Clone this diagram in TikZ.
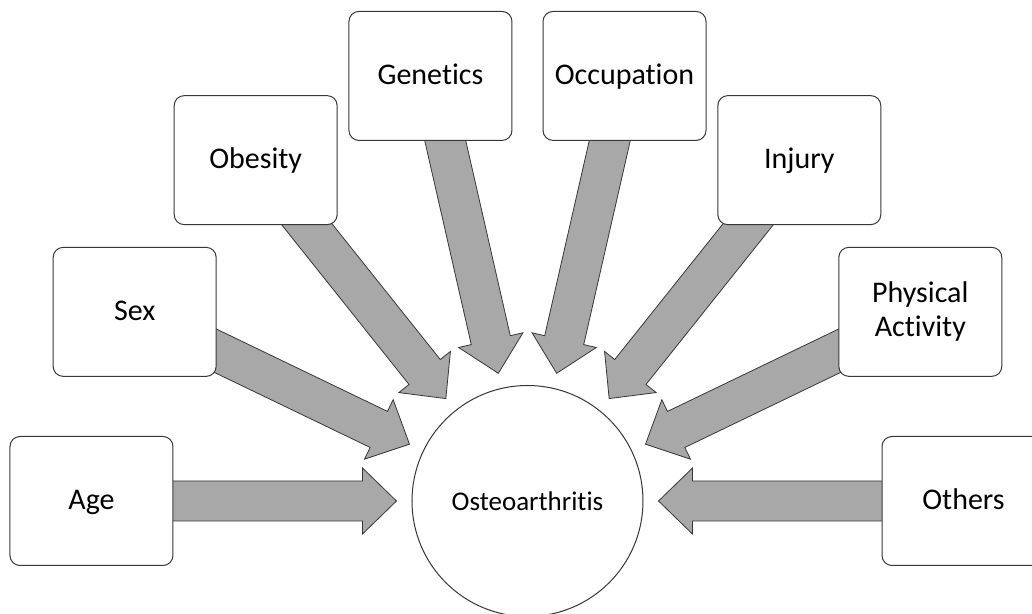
\documentclass[tikz,border=0pt]{standalone}
\usepackage{fontspec}
\setmainfont{Carlito}[Ligatures={TeX,NoCommon}]
\usetikzlibrary{calc,backgrounds}

\definecolor{arrowgray}{RGB}{168,168,168}
\definecolor{edgegray}{RGB}{55,55,55}

\tikzset{
  factor/.style={draw=edgegray, fill=white, line width=0.75pt, rounded corners=7.5pt,
    minimum width=122.25pt, minimum height=96.75pt, align=center,
    text height=16.9pt, text depth=4.5pt,
    font=\fontsize{22.5}{25.5}\selectfont},
  disease/.style={circle, draw=edgegray, fill=white, line width=0.75pt, inner sep=0pt,
    minimum size=173.25pt, font=\fontsize{20.25}{24}\selectfont},
  blockarrow/.style={fill=arrowgray, draw=edgegray, line width=0.6pt, line join=miter}
}

% block arrow from a factor box towards the centre node
\newcommand{\factorarrow}[2]{%
  \coordinate (tip) at ($(#2.center)!98.25pt!(#1.center)$);
  \coordinate (hb) at ($(tip)!25.5pt!(#1.center)$);
  \draw[blockarrow] ($(#1.center)!15pt!90:(tip)$) -- ($(hb)!15pt!90:(tip)$)
    -- ($(hb)!24.75pt!90:(tip)$) -- (tip) -- ($(hb)!24.75pt!-90:(tip)$)
    -- ($(hb)!15pt!-90:(tip)$) -- ($(#1.center)!15pt!-90:(tip)$) -- cycle;
}

\begin{document}
\begin{tikzpicture}[x=0.75pt, y=0.75pt]
    \useasboundingbox (-527.5,-113) rectangle (504.5,501);
    \node[disease] (oa) at (0,0) {Osteoarthritis};
    \node[factor] (age) at (180:436) {Age};              % 180
    \node[factor] (sex) at (154.29:436) {Sex};           % 180*6/7
    \node[factor] (obesity) at (128.57:436) {Obesity};   % 180*5/7
    \node[factor] (genetics) at (102.86:436) {Genetics};
    \node[factor] (occupation) at (77.14:436) {Occupation};
    \node[factor] (injury) at (51.43:436) {Injury};
    \node[factor, text height=, text depth=] (activity) at (25.71:436) {Physical\\Activity};
    \node[factor] (others) at (0:436) {Others};          % 0
    \begin{pgfonlayer}{background}
      \foreach \f in {age,sex,obesity,genetics,occupation,injury,activity,others}
        \factorarrow{\f}{oa};
    \end{pgfonlayer}
\end{tikzpicture}
\end{document}
